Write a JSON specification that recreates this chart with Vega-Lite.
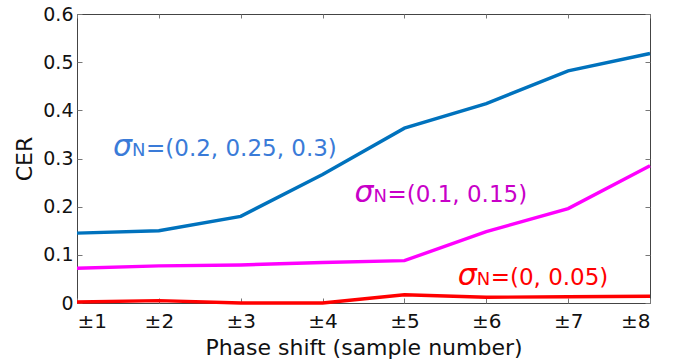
{
  "$schema": "https://vega.github.io/schema/vega-lite/v6.json",
  "width": 573,
  "height": 289,
  "autosize": "none",
  "padding": {"left": 77, "top": 14, "right": 31, "bottom": 57},
  "background": "white",
  "config": {
    "font": "DejaVu Sans",
    "view": {"stroke": "#444", "strokeWidth": 1},
    "axis": {"grid": false, "domain": false, "tickColor": "#777", "labelColor": "#111", "titleColor": "#111", "titleFontWeight": "normal"}
  },
  "datasets": {
    "lines": [
      {"shift": 1, "cer": 0.145, "series": "high"},
      {"shift": 2, "cer": 0.15, "series": "high"},
      {"shift": 3, "cer": 0.18, "series": "high"},
      {"shift": 4, "cer": 0.267, "series": "high"},
      {"shift": 5, "cer": 0.363, "series": "high"},
      {"shift": 6, "cer": 0.414, "series": "high"},
      {"shift": 7, "cer": 0.482, "series": "high"},
      {"shift": 8, "cer": 0.518, "series": "high"},
      {"shift": 1, "cer": 0.072, "series": "mid"},
      {"shift": 2, "cer": 0.077, "series": "mid"},
      {"shift": 3, "cer": 0.079, "series": "mid"},
      {"shift": 4, "cer": 0.084, "series": "mid"},
      {"shift": 5, "cer": 0.088, "series": "mid"},
      {"shift": 6, "cer": 0.148, "series": "mid"},
      {"shift": 7, "cer": 0.196, "series": "mid"},
      {"shift": 8, "cer": 0.285, "series": "mid"},
      {"shift": 1, "cer": 0.002, "series": "low"},
      {"shift": 2, "cer": 0.005, "series": "low"},
      {"shift": 3, "cer": 0.0, "series": "low"},
      {"shift": 4, "cer": 0.0, "series": "low"},
      {"shift": 5, "cer": 0.017, "series": "low"},
      {"shift": 6, "cer": 0.012, "series": "low"},
      {"shift": 7, "cer": 0.013, "series": "low"},
      {"shift": 8, "cer": 0.014, "series": "low"}
    ],
    "labels": [
      {"shift": 1.44, "cer": 0.305, "series": "high", "rest": "=(0.2, 0.25, 0.3)"},
      {"shift": 4.39, "cer": 0.21, "series": "mid", "rest": "=(0.1, 0.15)"},
      {"shift": 5.65, "cer": 0.037, "series": "low", "rest": "=(0, 0.05)"}
    ]
  },
  "resolve": {"axis": {"x": "independent", "y": "independent"}, "scale": {"color": "independent"}},
  "layer": [
    {
      "data": {"name": "lines"},
      "mark": {"type": "line", "strokeWidth": 3.4, "clip": false},
      "encoding": {
        "x": {"field": "shift", "type": "quantitative", "scale": {"domain": [1, 8], "nice": false, "zero": false},
          "axis": {"values": [1, 2, 3, 4, 5, 6, 7, 8], "labelExpr": "'±' + datum.value", "tickSize": -5, "labelPadding": 13, "labelFontSize": 20, "title": "Phase shift (sample number)", "titleFontSize": 22, "titlePadding": 6}},
        "y": {"field": "cer", "type": "quantitative", "scale": {"domain": [0, 0.6], "nice": false},
          "axis": {"values": [0, 0.1, 0.2, 0.3, 0.4, 0.5, 0.6], "labelExpr": "datum.value == 0 ? '0' : format(datum.value, '.1f')", "tickSize": -5, "labelPadding": 9, "labelFontSize": 19, "title": "CER", "titleFontSize": 22, "titlePadding": 6}},
        "color": {"field": "series", "type": "nominal", "legend": null,
          "scale": {"domain": ["high", "mid", "low"], "range": ["#0072BD", "#FF00FF", "#FF0000"]}},
        "order": {"field": "shift", "type": "quantitative"}
      }
    },
    {
      "data": {"name": "lines"},
      "mark": {"type": "point", "opacity": 0},
      "encoding": {
        "x": {"field": "shift", "type": "quantitative", "scale": {"domain": [1, 8], "nice": false, "zero": false},
          "axis": {"orient": "top", "values": [1, 2, 3, 4, 5, 6, 7, 8], "labels": false, "tickSize": -4, "title": null}},
        "y": {"field": "cer", "type": "quantitative", "scale": {"domain": [0, 0.6], "nice": false},
          "axis": {"orient": "right", "values": [0, 0.1, 0.2, 0.3, 0.4, 0.5, 0.6], "labels": false, "tickSize": -5, "title": null}}
      }
    },
    {
      "data": {"name": "labels"},
      "layer": [
        {"mark": {"type": "text", "align": "left", "baseline": "alphabetic", "fontSize": 30, "fontStyle": "italic", "text": "σ"}},
        {"mark": {"type": "text", "align": "left", "baseline": "alphabetic", "fontSize": 18, "dx": 19, "text": "N"}},
        {"mark": {"type": "text", "align": "left", "baseline": "alphabetic", "fontSize": 23, "dx": 33}, "encoding": {"text": {"field": "rest"}}}
      ],
      "encoding": {
        "x": {"field": "shift", "type": "quantitative", "axis": null},
        "y": {"field": "cer", "type": "quantitative", "axis": null},
        "color": {"field": "series", "type": "nominal", "legend": null,
          "scale": {"domain": ["high", "mid", "low"], "range": ["#3A7BD8", "#C800C8", "#FF0000"]}}
      }
    }
  ]
}
